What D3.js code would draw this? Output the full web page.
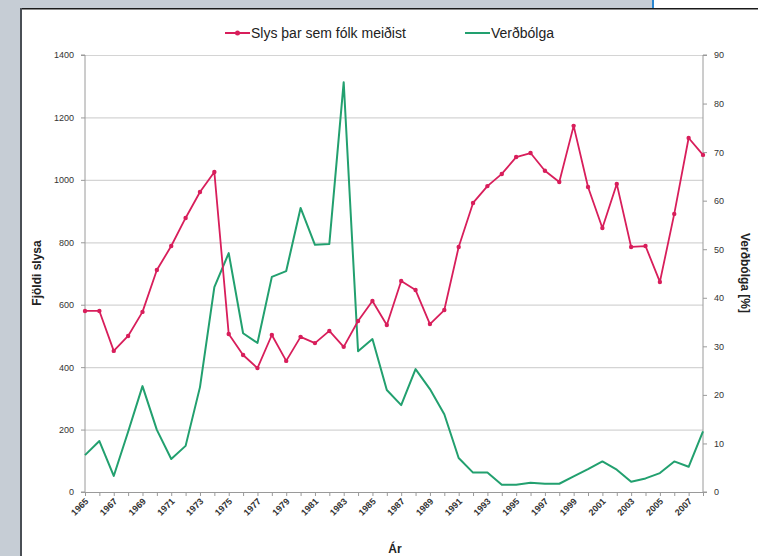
<!DOCTYPE html>
<html><head><meta charset="utf-8">
<script src="https://cdn.jsdelivr.net/npm/d3@7"></script>
<style>html,body{margin:0;padding:0;background:#fff}svg{display:block}text{font-family:"Liberation Sans",Arial,sans-serif}</style>
</head><body>
<svg id="c" width="758" height="556"></svg>
<script>
const years = d3.range(1965, 2009);
const slys = [580,580,452,500,577,711,788,878,961,1025,506,439,397,503,420,497,477,516,465,548,612,535,676,647,538,583,785,926,980,1019,1073,1086,1029,993,1173,977,846,987,785,788,673,891,1134,1080];
const verdbolga = [7.6,10.5,3.3,12.4,21.8,12.8,6.8,9.5,21.6,42.2,49.2,32.7,30.7,44.3,45.5,58.5,50.9,51.1,84.4,29.0,31.5,21.0,17.9,25.3,21.2,16.0,7.0,4.0,4.0,1.5,1.5,1.9,1.7,1.7,3.2,4.7,6.3,4.6,2.1,2.8,3.9,6.3,5.2,12.5];
const leftTicks = [0,200,400,600,800,1000,1200,1400];
const rightTicks = [0,10,20,30,40,50,60,70,80,90];
const xLabelYears = years.filter(y => (y - 1965) % 2 === 0);
const seriesNames = ["Slys þar sem fólk meiðist", "Verðbólga"];
const colors = ["#d81e5b", "#22a06f"];

const svg = d3.select("#c");
// frame
svg.append("rect").attr("x",0).attr("y",0).attr("width",652).attr("height",8).attr("fill","#c6cdd5");
svg.append("rect").attr("x",0).attr("y",0).attr("width",20).attr("height",556).attr("fill","#c6cdd5");
svg.append("rect").attr("x",652).attr("y",0).attr("width",2).attr("height",8).attr("fill","#2a86d0");
svg.append("rect").attr("x",20).attr("y",8).attr("width",738).attr("height",1.5).attr("fill","#1a1a1a");
svg.append("rect").attr("x",20).attr("y",8).attr("width",2).attr("height",548).attr("fill","#4a4f55");

const L = 85, R = 703, T = 55, B = 492;
const x = d3.scaleLinear().domain([1965, 2008]).range([L, R]);
const yL = d3.scaleLinear().domain([0, 1400]).range([B, T]);
const yR = d3.scaleLinear().domain([0, 90]).range([B, T]);

// gridlines
svg.append("g").selectAll("line").data(leftTicks.filter(d=>d>0)).join("line")
  .attr("x1", L).attr("x2", R).attr("y1", d=>yL(d)+0.5).attr("y2", d=>yL(d)+0.5)
  .attr("stroke", "#d4d4d4").attr("stroke-width", 1.2);

// left axis
const gl = svg.append("g").attr("transform", `translate(${L},0)`)
  .call(d3.axisLeft(yL).tickValues(leftTicks).tickFormat(d3.format("d")).tickSize(4).tickPadding(7));
// right axis
const gr = svg.append("g").attr("transform", `translate(${R},0)`)
  .call(d3.axisRight(yR).tickValues(rightTicks).tickFormat(d3.format("d")).tickSize(4).tickPadding(7));
// bottom axis
const gb = svg.append("g").attr("transform", `translate(0,${B})`)
  .call(d3.axisBottom(x).tickValues(years).tickSize(4).tickFormat(""));
[gl, gr, gb].forEach(g => {
  g.select(".domain").attr("stroke", "#9a9a9a").attr("stroke-width", 1);
  g.selectAll(".tick line").attr("stroke", "#9a9a9a");
  g.selectAll("text").attr("font-size", 9).attr("fill", "#333");
});
gl.select(".domain").attr("d", `M-4,${T}H0V${B}H-4`);
gr.select(".domain").attr("d", `M4,${T}H0V${B}H4`);

// x labels rotated
svg.append("g").selectAll("text").data(xLabelYears).join("text")
  .attr("transform", d => `translate(${x(d)+4},${B+10}) rotate(-45)`)
  .attr("text-anchor", "end").attr("font-size", 9).attr("font-weight", "bold").attr("fill", "#333")
  .text(d => d);

// lines
const lineL = d3.line().x((d,i)=>x(years[i])).y(d=>yL(d));
const lineR = d3.line().x((d,i)=>x(years[i])).y(d=>yR(d));
svg.append("path").datum(verdbolga).attr("d", lineR).attr("fill","none")
  .attr("stroke", colors[1]).attr("stroke-width", 2).attr("stroke-linejoin","round");
svg.append("path").datum(slys).attr("d", lineL).attr("fill","none")
  .attr("stroke", colors[0]).attr("stroke-width", 1.8).attr("stroke-linejoin","round");
svg.append("g").selectAll("circle").data(slys).join("circle")
  .attr("cx", (d,i)=>x(years[i])).attr("cy", d=>yL(d)).attr("r", 2.2).attr("fill", colors[0]);

// axis titles
svg.append("text").attr("transform", `translate(41,273) rotate(-90)`).attr("text-anchor","middle")
  .attr("font-size", 12).attr("font-weight","bold").attr("fill","#222").text("Fjöldi slysa");
svg.append("text").attr("transform", `translate(741,273) rotate(90)`).attr("text-anchor","middle")
  .attr("font-size", 12).attr("font-weight","bold").attr("fill","#222").text("Verðbólga [%]");
svg.append("text").attr("x", 395).attr("y", 553).attr("text-anchor","middle")
  .attr("font-size", 12).attr("font-weight","bold").attr("fill","#222").text("Ár");

// legend
const lg = svg.append("g");
const legendItems = [{x: 225, name: seriesNames[0], c: colors[0], m: true}, {x: 465, name: seriesNames[1], c: colors[1], m: false}];
legendItems.forEach(it => {
  lg.append("line").attr("x1", it.x).attr("x2", it.x+25).attr("y1", 33).attr("y2", 33)
    .attr("stroke", it.c).attr("stroke-width", 2);
  if (it.m) lg.append("circle").attr("cx", it.x+12.5).attr("cy", 33).attr("r", 2.5).attr("fill", it.c);
  lg.append("text").attr("x", it.x+26).attr("y", 38).attr("font-size", 14).attr("fill", "#222").text(it.name);
});
</script>
</body></html>
